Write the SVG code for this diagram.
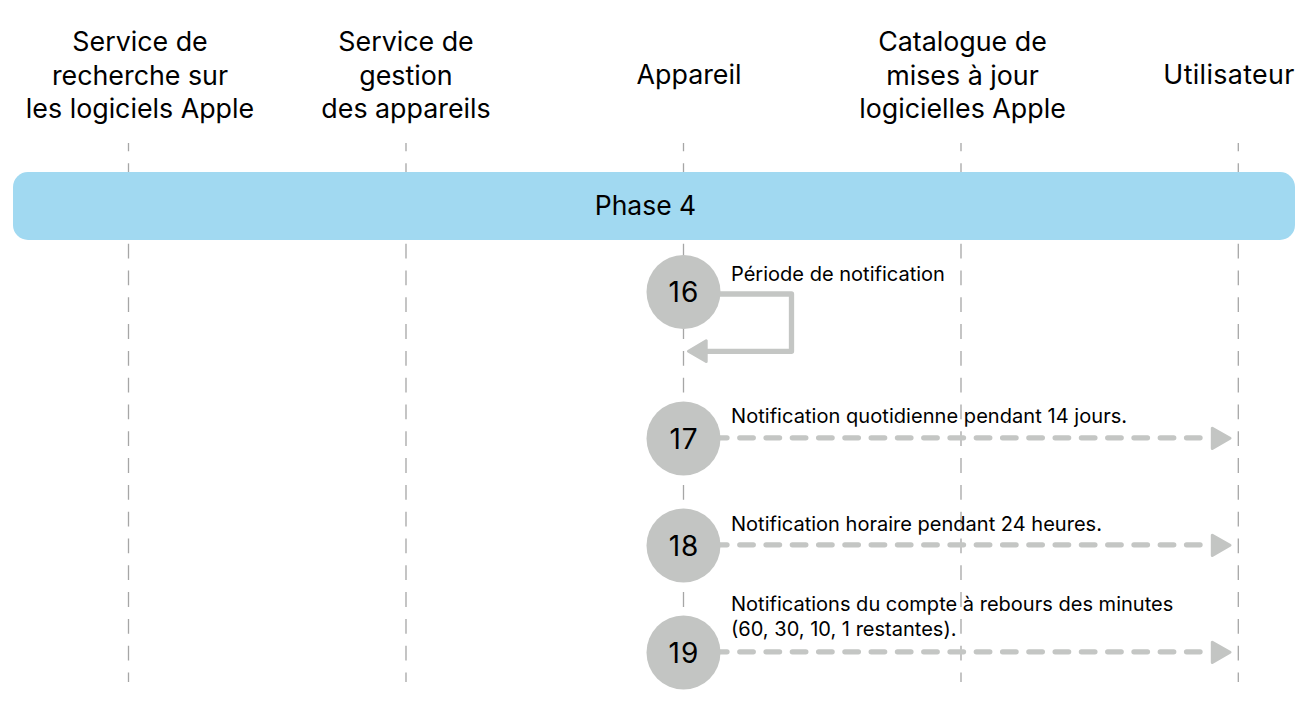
<svg xmlns="http://www.w3.org/2000/svg" width="1303" height="702" viewBox="0 0 1303 702">
<style>
text{font-family:Inter,"Liberation Sans",sans-serif;fill:#000}
.h{font-size:26.8px;text-anchor:middle}
.l{font-size:20.05px}
.n{font-size:28px;text-anchor:middle;letter-spacing:1px}
.life{stroke:#a6a6a6;stroke-width:1.3;stroke-dasharray:14.800 12;stroke-dashoffset:6.500;fill:none}
.c{fill:#c3c5c3}
.arrow{stroke:#c4c6c4;stroke-width:5.300;fill:none;stroke-linejoin:round}
.dash{stroke-dasharray:13.500 12.780;stroke-linecap:round}
.head{fill:#c3c5c3;stroke:#c3c5c3;stroke-width:3;stroke-linejoin:round}
</style>
<rect width="1303" height="702" fill="#fff"/>
<g id="lifelines">
<path class="life" d="M128.500 143V682"/>
<path class="life" d="M406 143V682"/>
<path class="life" d="M683.500 143V682"/>
<path class="life" d="M961 143V682"/>
<path class="life" d="M1238.300 143V682"/>
</g>
<g id="headers">
<text class="h" x="140" y="51">Service de</text><text class="h" x="140" y="84.500">recherche sur</text><text class="h" x="140" y="118">les logiciels Apple</text>
<text class="h" x="406" y="51">Service de</text><text class="h" x="406" y="84.500">gestion</text><text class="h" x="406" y="118">des appareils</text>
<text class="h" x="689" y="84">Appareil</text>
<text class="h" x="962.500" y="51">Catalogue de</text><text class="h" x="962.500" y="84.500">mises à jour</text><text class="h" x="962.500" y="118">logicielles Apple</text>
<text class="h" x="1229" y="84" letter-spacing=".35">Utilisateur</text>
</g>
<g id="phase"><rect x="13" y="172" width="1282" height="68" rx="15" fill="#a1d9f1"/><text x="645.500" y="214.500" font-size="26.500" text-anchor="middle">Phase 4</text></g>
<g id="connectors">
<path class="arrow" d="M716 294H791.500V351.300H704"/><path class="head" d="M688.500 351.300L706.200 340.800V361.500Z"/>
<path class="arrow dash" d="M713.500 437.800H1205"/><path class="head" d="M1230 438.300L1212.300 428.300V448.500Z"/>
<path class="arrow dash" d="M713.500 544.800H1205"/><path class="head" d="M1230 545.300L1212.300 535.300V555.500Z"/>
<path class="arrow dash" d="M713.500 651.800H1205"/><path class="head" d="M1230 652.300L1212.300 642.300V662.500Z"/>
</g>
<g id="n16"><circle class="c" cx="683.500" cy="292" r="37"/><text class="n" x="684" y="302">16</text><text class="l" x="731" y="281">Période de notification</text></g>
<g id="n17"><circle class="c" cx="683.500" cy="438.500" r="37"/><text class="n" x="684" y="448.500">17</text><text class="l" x="731" y="422.500" letter-spacing=".04">Notification quotidienne pendant 14 jours.</text></g>
<g id="n18"><circle class="c" cx="683.500" cy="545.500" r="37"/><text class="n" x="684" y="555.500">18</text><text class="l" x="731" y="530.500">Notification horaire pendant 24 heures.</text></g>
<g id="n19"><circle class="c" cx="683.500" cy="652.500" r="37"/><text class="n" x="684" y="662.500">19</text><text class="l" x="731" y="611">Notifications du compte à rebours des minutes</text><text class="l" x="731" y="636">(60, 30, 10, 1 restantes).</text></g>
</svg>
